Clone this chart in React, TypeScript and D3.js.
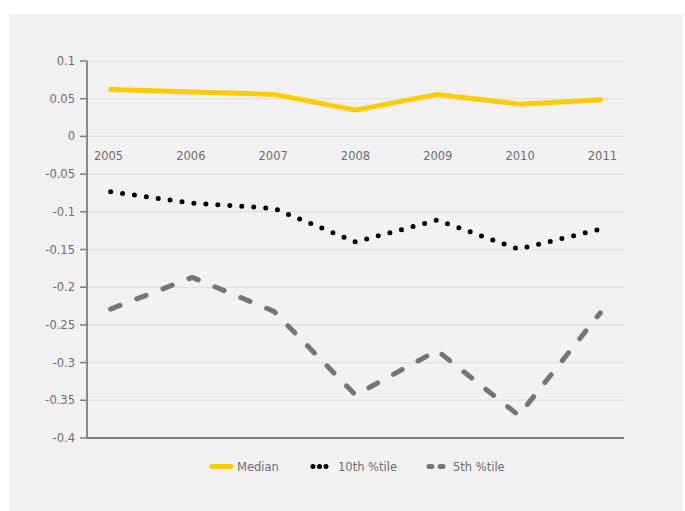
import React from "react";
import * as d3 from "d3";

const years = ["2005", "2006", "2007", "2008", "2009", "2010", "2011"];
const median = [0.0623, 0.059, 0.0557, 0.0349, 0.0557, 0.0428, 0.0486];
const p10 = [-0.0735, -0.0885, -0.0955, -0.14, -0.111, -0.1495, -0.123];
const p5 = [-0.229, -0.187, -0.232, -0.343, -0.284, -0.37, -0.234];
const yTicks = [0.1, 0.05, 0, -0.05, -0.1, -0.15, -0.2, -0.25, -0.3, -0.35, -0.4];
const seriesNames = ["Median", "10th %tile", "5th %tile"];

const W = 685;
const H = 511;
const left = 87;
const right = 624;
const top = 61;
const bottom = 438;

const FONT = "'DejaVu Sans', Verdana, sans-serif";

export default function App() {
  const x = d3.scalePoint<string>().domain(years).range([left, right]).padding(0.29);
  const xLab = d3.scalePoint<string>().domain(years).range([left, right]).padding(0.262);
  const y = d3.scaleLinear().domain([-0.4, 0.1]).range([bottom, top]);

  const line = d3
    .line<number>()
    .x((_, i) => x(years[i]) as number)
    .y((d) => y(d));

  const fmt = (v: number) => (v === 0 ? "0" : String(+v.toFixed(2)));

  const legendY = 466.5;

  return (
    <svg
      width={W}
      height={H}
      style={{ position: "absolute", left: 0, top: 0, display: "block" }}
    >
      <rect x={0} y={0} width={W} height={H} fill="#ffffff" />
      <rect x={9} y={14} width={674} height={H - 14} fill="#f2f2f2" />

      {/* grid */}
      {yTicks.map((t) => (
        <line
          key={"g" + t}
          x1={left}
          x2={right}
          y1={y(t)}
          y2={y(t)}
          stroke="#e4e4e4"
          strokeWidth={1.6}
        />
      ))}

      {/* y axis */}
      <line x1={left} x2={left} y1={top} y2={bottom + 1} stroke="#7f7f7f" strokeWidth={1.8} />
      {yTicks.map((t) => (
        <g key={"t" + t}>
          <line x1={left - 7} x2={left} y1={y(t)} y2={y(t)} stroke="#7f7f7f" strokeWidth={1.5} />
          <text
            x={left - 12}
            y={y(t)}
            dy="0.35em"
            textAnchor="end"
            fontFamily={FONT}
            fontSize={11.5}
            fill="#6e6e6e"
          >
            {fmt(t)}
          </text>
        </g>
      ))}

      {/* x axis line at bottom */}
      <line x1={left} x2={right} y1={bottom} y2={bottom} stroke="#7f7f7f" strokeWidth={2} />

      {/* year labels near zero line */}
      {years.map((yr) => (
        <text
          key={"x" + yr}
          x={xLab(yr) as number}
          y={y(0) + 23.5}
          textAnchor="middle"
          fontFamily={FONT}
          fontSize={11.5}
          fill="#6e6e6e"
        >
          {yr}
        </text>
      ))}

      {/* series */}
      <path
        d={line(median) || ""}
        fill="none"
        stroke="#ffcc00"
        strokeWidth={5}
        strokeLinecap="round"
        strokeLinejoin="round"
      />
      <path
        d={line(p10) || ""}
        fill="none"
        stroke="#000000"
        strokeWidth={5}
        strokeLinecap="round"
        strokeLinejoin="round"
        strokeDasharray="0 12"
      />
      <path
        d={line(p5) || ""}
        fill="none"
        stroke="#767676"
        strokeWidth={5}
        strokeLinecap="round"
        strokeLinejoin="round"
        strokeDasharray="10 18"
      />

      {/* legend */}
      <g fontFamily={FONT} fontSize={11.5} fill="#6e6e6e">
        <line x1={212} x2={231} y1={legendY} y2={legendY} stroke="#ffcc00" strokeWidth={5} strokeLinecap="round" />
        <text x={237} y={legendY} dy="0.35em">{seriesNames[0]}</text>

        <line x1={313} x2={326.5} y1={legendY} y2={legendY} stroke="#000" strokeWidth={5} strokeLinecap="round" strokeDasharray="0 6.5" />
        <text x={338} y={legendY} dy="0.35em">{seriesNames[1]}</text>

        <line x1={429} x2={446} y1={legendY} y2={legendY} stroke="#767676" strokeWidth={5} strokeLinecap="round" strokeDasharray="3 8" />
        <text x={453} y={legendY} dy="0.35em">{seriesNames[2]}</text>
      </g>
    </svg>
  );
}
